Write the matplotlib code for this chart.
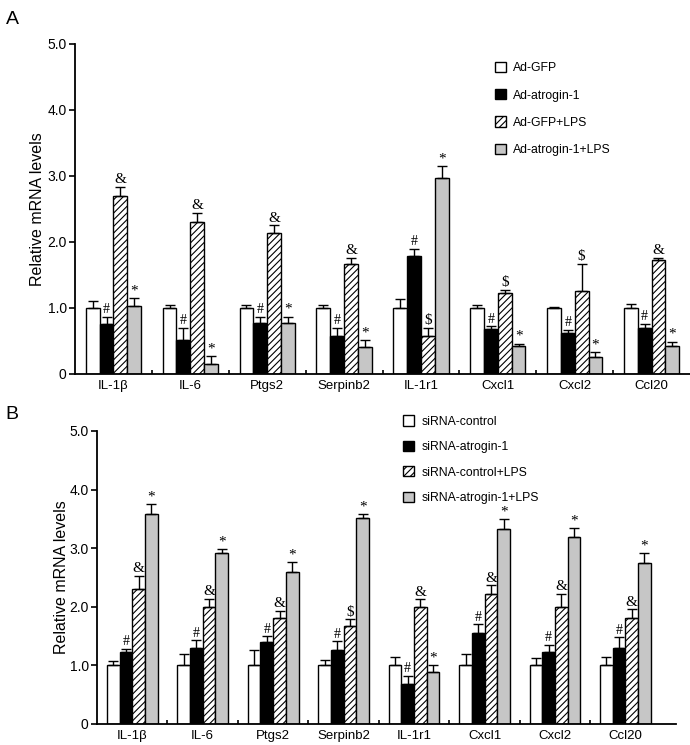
import numpy as np
import matplotlib
matplotlib.use('Agg')
import matplotlib.pyplot as plt
from matplotlib.patches import Patch

plt.rcParams['font.family'] = ['Liberation Sans', 'DejaVu Sans']
plt.rcParams['hatch.linewidth'] = 0.8

genes = ['IL-1β', 'IL-6', 'Ptgs2', 'Serpinb2', 'IL-1r1', 'Cxcl1', 'Cxcl2', 'Ccl20']

# panel A: adenovirus overexpression
groups_a = ['Ad-GFP', 'Ad-atrogin-1', 'Ad-GFP+LPS', 'Ad-atrogin-1+LPS']
mean_a = [
    [1.0, 1.0, 1.0, 1.0, 1.0, 1.0, 1.0, 1.0],
    [0.75, 0.52, 0.77, 0.57, 1.79, 0.68, 0.62, 0.70],
    [2.70, 2.30, 2.13, 1.66, 0.57, 1.22, 1.26, 1.72],
    [1.03, 0.15, 0.77, 0.41, 2.97, 0.43, 0.25, 0.43],
]
err_a = [
    [0.10, 0.05, 0.05, 0.05, 0.13, 0.04, 0.01, 0.06],
    [0.12, 0.18, 0.10, 0.12, 0.10, 0.04, 0.04, 0.06],
    [0.14, 0.14, 0.12, 0.10, 0.12, 0.06, 0.40, 0.04],
    [0.12, 0.12, 0.10, 0.10, 0.18, 0.03, 0.08, 0.06],
]
sig_a = [
    ['', '', '', '', '', '', '', ''],
    ['#', '#', '#', '#', '#', '#', '#', '#'],
    ['&', '&', '&', '&', '$', '$', '$', '&'],
    ['*', '*', '*', '*', '*', '*', '*', '*'],
]

# panel B: siRNA knockdown
groups_b = ['siRNA-control', 'siRNA-atrogin-1', 'siRNA-control+LPS', 'siRNA-atrogin-1+LPS']
mean_b = [
    [1.0, 1.0, 1.0, 1.0, 1.0, 1.0, 1.0, 1.0],
    [1.22, 1.30, 1.40, 1.26, 0.68, 1.56, 1.23, 1.30],
    [2.30, 1.99, 1.81, 1.68, 1.99, 2.22, 1.99, 1.81],
    [3.59, 2.91, 2.60, 3.52, 0.89, 3.32, 3.19, 2.75],
]
err_b = [
    [0.07, 0.20, 0.26, 0.10, 0.15, 0.20, 0.12, 0.15],
    [0.06, 0.13, 0.10, 0.15, 0.14, 0.14, 0.12, 0.18],
    [0.23, 0.15, 0.12, 0.11, 0.14, 0.15, 0.23, 0.15],
    [0.16, 0.07, 0.17, 0.07, 0.11, 0.17, 0.15, 0.17],
]
sig_b = [
    ['', '', '', '', '', '', '', ''],
    ['#', '#', '#', '#', '#', '#', '#', '#'],
    ['&', '&', '&', '$', '&', '&', '&', '&'],
    ['*', '*', '*', '*', '*', '*', '*', '*'],
]

faces = ['white', 'black', 'white', '#c6c6c6']
hatches = [None, None, '/////', None]
w = 0.18


def panel(ax, means, errs, sigs, labels, xmax, leg_anchor, ylabpad, lspace):
    x = np.arange(len(genes))
    for i in range(4):
        xs = x + (i - 1.5) * w
        m = np.array(means[i])
        e = np.array(errs[i])
        ax.bar(xs, m, width=w, color=faces[i], edgecolor='black',
               hatch=hatches[i], linewidth=1.0, zorder=2)
        ax.errorbar(xs, m, yerr=[np.zeros_like(e), e], fmt='none',
                    ecolor='black', elinewidth=1.0, capsize=3.5, capthick=1.0, zorder=3)
        for xx, mm, ee, s in zip(xs, m, e, sigs[i]):
            if s:
                ax.text(xx, mm + ee + 0.06, s, ha='center', va='baseline',
                        fontsize=11 if s != '#' else 10,
                        family=['Liberation Serif', 'DejaVu Serif'])
    ax.set_xlim(-0.5, xmax)
    ax.set_ylim(0, 5)
    ax.set_yticks([0, 1, 2, 3, 4, 5])
    ax.set_yticklabels(['0', '1.0', '2.0', '3.0', '4.0', '5.0'], fontsize=10)
    ax.set_xticks(x)
    ax.set_xticklabels(genes, fontsize=9.5)
    ax.tick_params(axis='x', length=0, pad=4)
    ax.tick_params(axis='y', direction='out', length=4, width=1.2, pad=2)
    # small boundary marks between genes
    ax.set_xticks(x[:-1] + 0.5, minor=True)
    ax.tick_params(axis='x', which='minor', direction='in', length=3, width=1.2)
    for s in ['top', 'right']:
        ax.spines[s].set_visible(False)
    for s in ['left', 'bottom']:
        ax.spines[s].set_linewidth(1.3)
    ax.set_ylabel('Relative mRNA levels', fontsize=11.5, labelpad=ylabpad)
    handles = [Patch(facecolor=faces[i], edgecolor='black', hatch=hatches[i],
                     linewidth=1.0, label=labels[i]) for i in range(4)]
    ax.legend(handles=handles, loc='upper left', bbox_to_anchor=leg_anchor,
              frameon=False, fontsize=8.8, handlelength=0.9, handleheight=0.9,
              labelspacing=lspace, handletextpad=0.6, borderaxespad=0)


fig = plt.figure(figsize=(6.9, 7.45), dpi=100)
ax1 = fig.add_axes([0.1087, 0.498, 0.8913, 0.443])
ax2 = fig.add_axes([0.1406, 0.0282, 0.8394, 0.3933])

panel(ax1, mean_a, err_a, sig_a, groups_a, 7.5, (0.675, 0.96), 2, 1.22)
panel(ax2, mean_b, err_b, sig_b, groups_b, 7.72, (0.52, 1.07), 0, 1.08)

fig.text(0.008, 0.985, 'A', fontsize=14, va='top')
fig.text(0.008, 0.455, 'B', fontsize=14, va='top')

fig.savefig('out.png', dpi=100)
